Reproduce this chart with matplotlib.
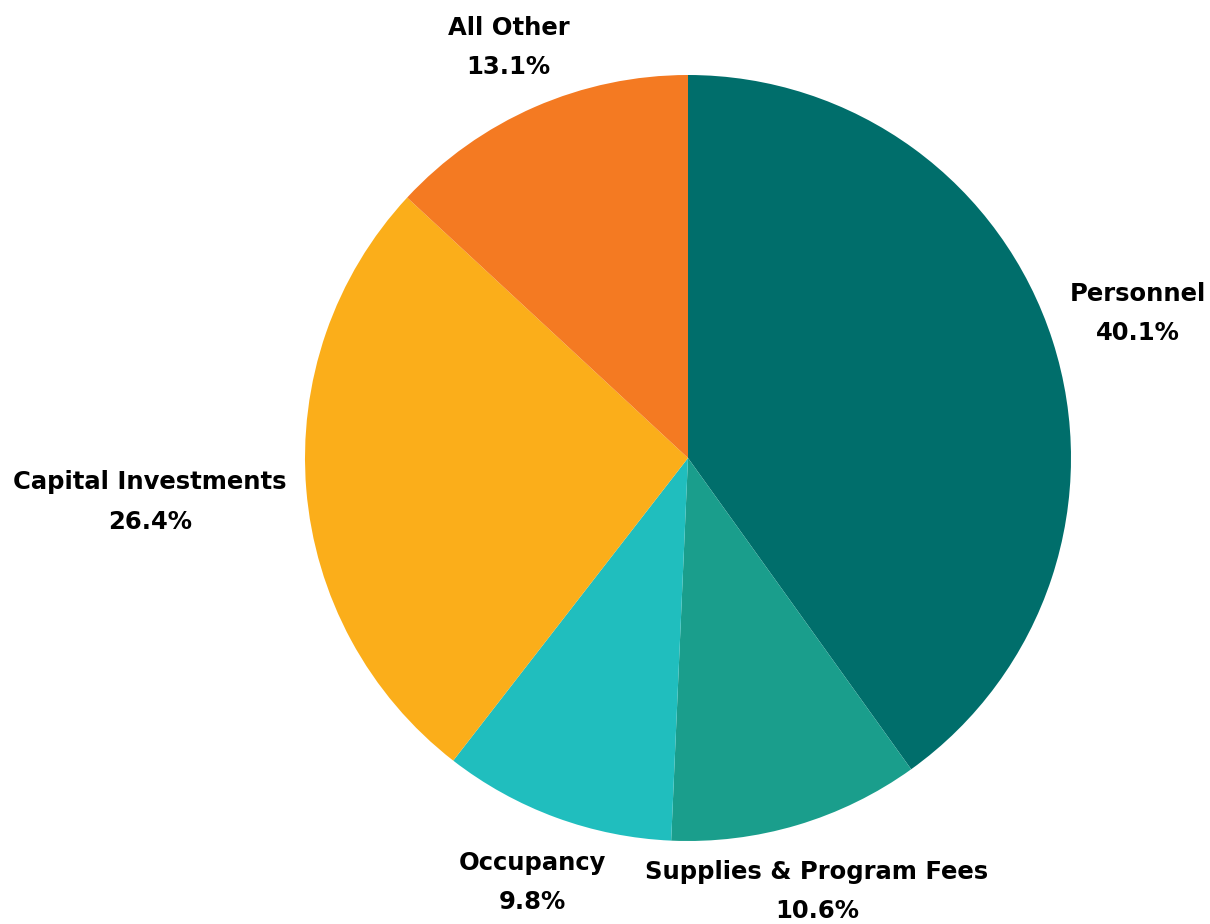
import numpy as np
import matplotlib.pyplot as plt

#----- data
labels = ['Personnel', 'Supplies & Program Fees', 'Occupancy',
          'Capital Investments', 'All Other']
shares = [40.1, 10.6, 9.8, 26.4, 13.1]
colors = ['#006E6B', '#1A9E8C', '#20BEBE', '#FBAE1A', '#F47A22']
# how far out each label sits (in pie radii)
label_dist = [1.235, 1.18, 1.18, 1.41, 1.17]

#----- figure
fig = plt.figure(figsize=(12.10, 9.24), dpi=100)
ax = fig.add_axes([0, 0, 1, 1])
ax.axis('off')

wedges, _ = ax.pie(shares, colors=colors, startangle=90, counterclock=False,
                   radius=1.0, center=(0, 0),
                   wedgeprops=dict(linewidth=0))

# pixel layout: centre at (688, 458), radius 383 px
px = 383.0
ax.set_xlim(-688 / px, (1210 - 688) / px)
ax.set_ylim(-(924 - 458) / px, 458 / px)
ax.set_aspect('equal')

for w, lab, val, d in zip(wedges, labels, shares, label_dist):
    ang = np.deg2rad((w.theta1 + w.theta2) / 2)
    x, y = d * np.cos(ang), d * np.sin(ang)
    ax.text(x, y, f'{lab}\n{val:.1f}%', ha='center', va='center',
            fontsize=17.5, fontweight='bold', family='DejaVu Sans',
            linespacing=1.8, color='black')

plt.savefig('out.png', dpi=100)
